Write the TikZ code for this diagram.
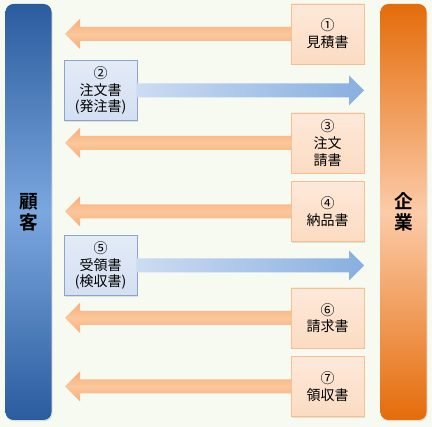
\documentclass[tikz,border=0pt]{standalone}
\usepackage{fontspec}
\setmainfont{Noto Sans CJK JP}[BoldFont={Noto Sans CJK JP Bold}]
\usetikzlibrary{calc,shadows}

\definecolor{bgc}{HTML}{F6FAF1}
\definecolor{custDark}{HTML}{2B5C9E}
\definecolor{custLight}{HTML}{7BA7DF}
\definecolor{firmDark}{HTML}{E46C0A}
\definecolor{firmLight}{HTML}{FCCBA8}
\definecolor{docOline}{HTML}{F6BE91}
\definecolor{docOtop}{HTML}{FDE9D9}
\definecolor{docObot}{HTML}{FCDCC2}
\definecolor{docBline}{HTML}{8AA4CA}
\definecolor{docBtop}{HTML}{E3EBF7}
\definecolor{docBbot}{HTML}{D3DFF2}
\definecolor{arrO}{HTML}{F7AE78}
\definecolor{arrOmid}{HTML}{FBC79C}
\definecolor{arrBl}{HTML}{CCDCF2}
\definecolor{arrBr}{HTML}{88AFE0}

% arrow from a document box to a tip coordinate
\newcommand{\docarrowL}[2]{%
  \path[oarr] ($(#1.west)+(1,-7)$) -- ($(#2)+(15,-7)$) -- ($(#2)+(15,-15)$) -- (#2)
    -- ($(#2)+(15,15)$) -- ($(#2)+(15,7)$) -- ($(#1.west)+(1,7)$) -- cycle;}
\newcommand{\docarrowR}[2]{%
  \path[barr] ($(#1.east)+(-1,-7)$) -- ($(#2)+(-15,-7)$) -- ($(#2)+(-15,-15)$) -- (#2)
    -- ($(#2)+(-15,15)$) -- ($(#2)+(-15,7)$) -- ($(#1.east)+(-1,7)$) -- cycle;}

\begin{document}
\begin{tikzpicture}[
  x=0.75pt, y=-0.75pt,
  bar/.style={rounded corners=6pt, minimum width=34.5pt, minimum height=312pt, inner sep=0pt,
    align=center, font=\fontsize{14}{16}\selectfont\bfseries,
    drop shadow={opacity=0.2, shadow xshift=0.8pt, shadow yshift=-1pt}},
  odoc/.style={draw=docOline, top color=docOtop, bottom color=docObot, minimum width=54.75pt,
    minimum height=45pt, inner sep=1pt, align=center, font=\fontsize{10.5}{12.5}\selectfont,
    drop shadow={opacity=0.2, shadow xshift=0.8pt, shadow yshift=-0.8pt}},
  bdoc/.style={odoc, draw=docBline, top color=docBtop, bottom color=docBbot},
  oarr/.style={top color=arrO, bottom color=arrO, middle color=arrOmid},
  barr/.style={left color=arrBl, right color=arrBr}
]
\useasboundingbox (0,0) rectangle (432,427);
\fill[bgc] (0,0) rectangle (432,427);

% parties
\node[bar, top color=custDark, bottom color=custDark, middle color=custLight] (cust) at (28.5,212) {顧\\客};
\node[bar, top color=firmDark, bottom color=firmDark, middle color=firmLight] (firm) at (403.5,212) {企\\業};

% documents sent by the company
\foreach \n/\y/\t in {d1/34/{①\\見積書}, d3/143/{③\\注文\\請書}, d4/211.5/{④\\納品書},
                      d6/318/{⑥\\請求書}, d7/386.5/{⑦\\領収書}} {
  \node[odoc] (\n) at (327.5,\y) {\t};
  \coordinate (t\n) at (65,\y);
  \docarrowL{\n}{t\n}
}
% documents sent by the customer
\foreach \n/\y/\t in {d2/90.5/{②\\注文書\\(発注書)}, d5/265.5/{⑤\\受領書\\(検収書)}} {
  \node[bdoc] (\n) at (100.5,\y) {\t};
  \coordinate (t\n) at (364,\y);
  \docarrowR{\n}{t\n}
}
\end{tikzpicture}
\end{document}
